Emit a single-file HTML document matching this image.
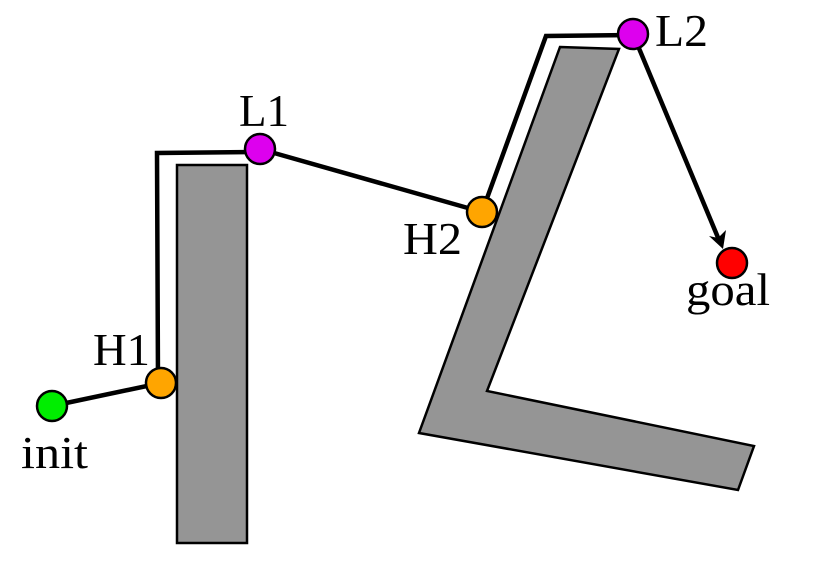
<!DOCTYPE html>
<html><head><meta charset="utf-8"><style>
html,body{margin:0;padding:0;background:#fff;width:814px;height:572px;overflow:hidden}
text{font-family:"Liberation Serif",serif;font-size:46px;fill:#000}
</style></head><body>
<svg width="814" height="572" viewBox="0 0 814 572">
<rect x="177" y="165" width="70" height="378" fill="#959595" stroke="#000" stroke-width="2.5"/>
<polygon points="560,47 619,49 487,391 754,446 738,490 419,433" fill="#959595" stroke="#000" stroke-width="2.5"/>
<g fill="none" stroke="#000" stroke-width="4.5">
<line x1="52" y1="406" x2="161" y2="383"/>
<polyline points="158,383 157,153 260,152"/>
<line x1="260" y1="149" x2="482" y2="212"/>
<polyline points="482,212 546,36 633,35"/>
<line x1="633" y1="34" x2="719" y2="240"/>
</g>
<polygon points="723,249 709,236 718,238 726,230" fill="#000"/>
<g stroke="#000" stroke-width="2.5">
<circle cx="52" cy="406" r="15" fill="#00ee00"/>
<circle cx="161" cy="383" r="15" fill="#ffa500"/>
<circle cx="260" cy="149" r="15" fill="#dd00ee"/>
<circle cx="482" cy="212" r="15" fill="#ffa500"/>
<circle cx="633" cy="34" r="15" fill="#dd00ee"/>
<circle cx="732" cy="263" r="15" fill="#ff0000"/>
</g>
<text x="21" y="468" textLength="67" lengthAdjust="spacingAndGlyphs">init</text>
<text x="93" y="365" textLength="57" lengthAdjust="spacingAndGlyphs">H1</text>
<text x="239" y="126" textLength="50" lengthAdjust="spacingAndGlyphs">L1</text>
<text x="403" y="254" textLength="59" lengthAdjust="spacingAndGlyphs">H2</text>
<text x="655" y="46" textLength="53" lengthAdjust="spacingAndGlyphs">L2</text>
<text x="686" y="305" textLength="84" lengthAdjust="spacingAndGlyphs">goal</text>
</svg>
</body></html>
